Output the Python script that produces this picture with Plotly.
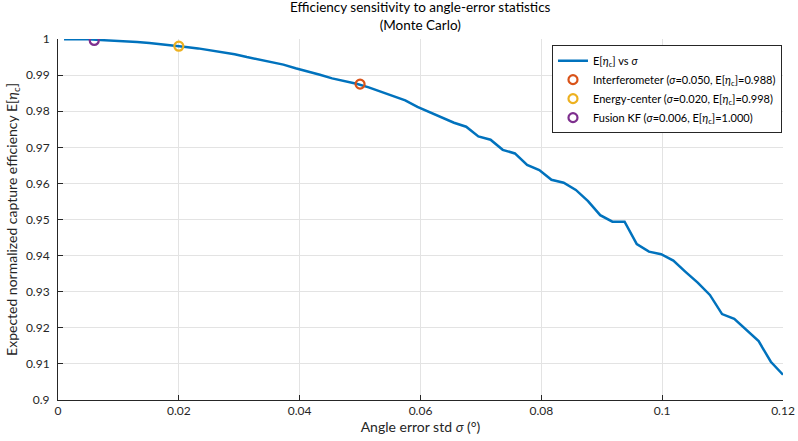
import numpy as np
import plotly.graph_objects as go

sigma = np.linspace(0.001, 0.12, 60)
eff = [0.99995, 0.99995, 0.9999, 0.9997, 0.9996, 0.9994, 0.9992, 0.9989, 0.9986, 0.9982,
       0.9978, 0.9974, 0.9969, 0.9964, 0.9958, 0.9950, 0.9943, 0.9937, 0.9929, 0.9919,
       0.9911, 0.9901, 0.9891, 0.9884, 0.9876, 0.9866, 0.9854, 0.9840, 0.9830, 0.9812,
       0.9797, 0.9783, 0.9768, 0.9757, 0.9730, 0.9721, 0.9693, 0.9683, 0.9651, 0.9637,
       0.9610, 0.9602, 0.9582, 0.9551, 0.9512, 0.9494, 0.9494, 0.9432, 0.9411, 0.9404,
       0.9386, 0.9355, 0.9325, 0.9291, 0.9238, 0.9225, 0.9194, 0.9163, 0.9106, 0.9070]

pt_names = ["Interferometer", "Energy-center", "Fusion KF"]
pt_sigma = [0.050, 0.020, 0.006]
pt_eff = [0.9875, 0.9980, 0.9996]
pt_eff_label = ["0.988", "0.998", "1.000"]
pt_colors = ["#D95319", "#EDB120", "#7E2F8E"]

x_ticks = [0, 0.02, 0.04, 0.06, 0.08, 0.1, 0.12]
x_tick_text = ["0", "0.02", "0.04", "0.06", "0.08", "0.1", "0.12"]
y_ticks = [0.9, 0.91, 0.92, 0.93, 0.94, 0.95, 0.96, 0.97, 0.98, 0.99, 1.0]
y_tick_text = ["0.9", "0.91", "0.92", "0.93", "0.94", "0.95", "0.96", "0.97", "0.98", "0.99", "1"]

FONT = "Lato, Noto Sans, sans-serif"
eta = "E[<i>η</i><sub>c</sub>]"

fig = go.Figure()
fig.add_trace(go.Scatter(
    x=sigma, y=eff, mode="lines",
    line=dict(color="#0072BD", width=2.5),
    name=f"{eta} vs <i>σ</i>"))
for n, s, e, lab, c in zip(pt_names, pt_sigma, pt_eff, pt_eff_label, pt_colors):
    fig.add_trace(go.Scatter(
        x=[s], y=[e], mode="markers",
        marker=dict(symbol="circle-open", size=9, color=c, line=dict(width=2.2, color=c)),
        name=f"{n} (<i>σ</i>={s:.3f}, {eta}={lab})"))

fig.add_annotation(
    text="Efficiency sensitivity to angle-error statistics<br>(Monte Carlo)",
    xref="paper", yref="paper", x=0.5, y=1, xanchor="center", yanchor="bottom",
    yshift=4, showarrow=False, font=dict(size=13.5, color="#000000"))

fig.update_layout(
    width=798, height=441,
    margin=dict(l=58, r=15, t=39, b=41),
    paper_bgcolor="white", plot_bgcolor="white",
    font=dict(family=FONT, size=12, color="#262626"),
    showlegend=True,
    legend=dict(x=0.9986, xanchor="right", y=0.983, yanchor="top",
                bgcolor="white", bordercolor="#262626", borderwidth=1,
                font=dict(size=11, color="#000000"),
                tracegroupgap=0, itemwidth=30),
)
fig.update_xaxes(
    range=[0, 0.12], tickvals=x_ticks, ticktext=x_tick_text,
    showgrid=True, gridcolor="#e3e3e3", gridwidth=1,
    showline=True, linecolor="#262626", linewidth=1, mirror=False,
    ticks="inside", ticklen=5, tickcolor="#262626",
    zeroline=False, automargin=False,
    title=dict(text="Angle error std <i>σ</i> (°)", standoff=4, font=dict(size=14, color="#262626")),
)
fig.update_yaxes(
    range=[0.9, 1.0], tickvals=y_ticks, ticktext=y_tick_text,
    showgrid=True, gridcolor="#e3e3e3", gridwidth=1,
    showline=True, linecolor="#262626", linewidth=1, mirror=False,
    ticks="inside", ticklen=5, tickcolor="#262626", ticklabelstandoff=5,
    zeroline=False, automargin=False,
    title=dict(text=f"Expected normalized capture efficiency {eta}", standoff=4,
               font=dict(size=14, color="#262626")),
)

fig.write_html("out.html")
